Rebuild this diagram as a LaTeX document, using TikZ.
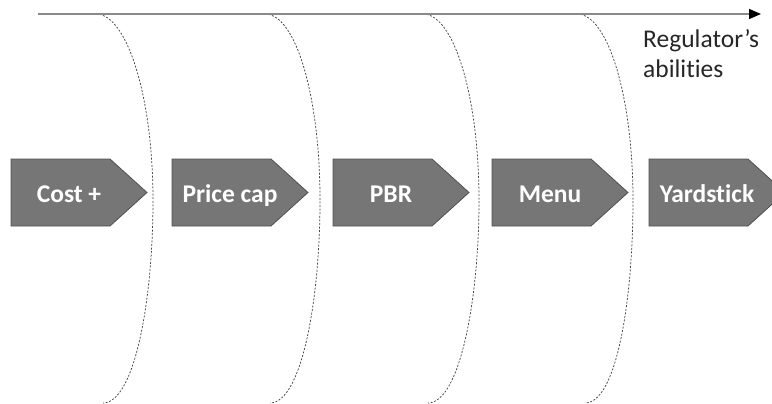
\documentclass[tikz,border=0pt]{standalone}
\usepackage{fontspec}
\setmainfont{Carlito}[Ligatures={NoCommon}]
\usetikzlibrary{arrows.meta}
\definecolor{chevfill}{RGB}{118,118,118}
\definecolor{chevline}{RGB}{80,80,80}
\definecolor{axisgray}{RGB}{138,138,138}
\definecolor{arcgray}{RGB}{70,70,70}
\tikzset{
  chev/.style={fill=chevfill, draw=chevline, line width=0.8pt, line join=miter},
  chevtext/.style={text=white, font=\fontsize{25.5}{30}\selectfont\bfseries, inner sep=0pt, anchor=base},
  regtext/.style={text=black!85, font=\fontsize{25.5}{30}\selectfont, inner sep=0pt, anchor=base west},
  arcline/.style={draw=arcgray, line width=0.75pt, dash pattern=on 2pt off 1.6pt},
  axisline/.style={draw=axisgray, line width=1.4pt, -{Triangle[length=12pt,width=10pt,color=black]}}
}
\begin{document}
\begin{tikzpicture}[x=1pt,y=-1pt]
\useasboundingbox (0,0) rectangle (772,404);
\clip (0,0) rectangle (772,404);
% dashed arcs
\foreach \xt/\xm/\xb in {96/153/103, 265/320/270, 423/479/428, 577/633/585}{
  \draw[arcline] (\xt,14) .. controls ({\xt+31},14) and (\xm,97) .. (\xm,200)
     .. controls (\xm,303) and ({\xb+31},403) .. (\xb,403);
}
% axis
\coordinate (axstart) at (37.5,14);
\coordinate (axend) at (761,14);
\draw[axisline] (axstart) -- (axend);
\node[regtext] (reg1) at (643,47.7) {Regulator’s};
\node[regtext] (reg2) at (643,77.7) {abilities};
% chevrons
\foreach \l/\name/\txt in {11/cost/{Cost +}, 172/price/{Price cap}, 333/pbr/{PBR}, 492/menu/{Menu}, 649/yard/{Yardstick}}{
  \path[chev] (\l,159) -- ({\l+99},159) -- ({\l+136},192.5) -- ({\l+99},226) -- (\l,226) -- cycle;
  \node[chevtext] (\name) at ({\l+58},202) {\txt};
}
\end{tikzpicture}
\end{document}
